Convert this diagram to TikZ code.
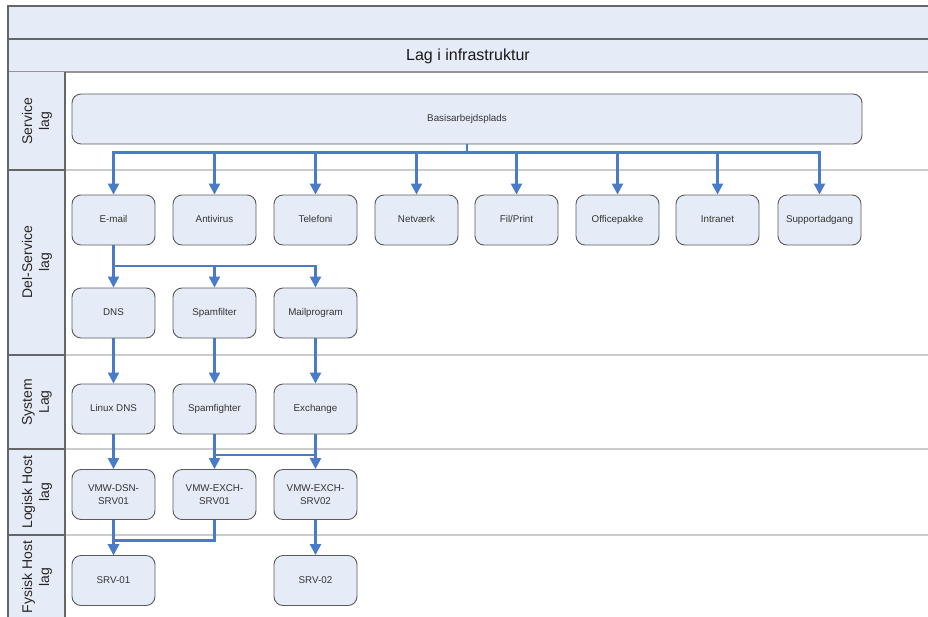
\documentclass[tikz,border=0pt]{standalone}
\usepackage{fontspec}
\setmainfont{Liberation Sans}
\usetikzlibrary{arrows.meta}
\definecolor{boxfill}{HTML}{E6ECF7}
\definecolor{boxline}{HTML}{5A5A5A}
\definecolor{framecol}{HTML}{666666}
\definecolor{sepcol}{HTML}{CCCCCC}
\definecolor{arrowblue}{HTML}{4A7BC8}
\definecolor{txtcol}{HTML}{333333}
\tikzset{
  svcbox/.style={draw=boxline, line width=0.9pt, fill=boxfill, rounded corners=9pt,
    minimum width=83pt, minimum height=50pt, inner sep=2pt, align=center,
    text=txtcol, font=\fontsize{9.8}{12.8}\selectfont},
  oneline/.style={svcbox, text height=7pt, text depth=2pt},
  conn/.style={draw=arrowblue, line width=2.4pt, -{Triangle[width=11pt,length=11pt]}},
  plainconn/.style={draw=arrowblue, line width=2.4pt},
  lanelabel/.style={rotate=90, align=center, text=black!85, font=\fontsize{14}{17}\selectfont},
  lanesep/.style={draw=sepcol, line width=1.2pt},
  framesep/.style={draw=framecol, line width=1.2pt}
}
\begin{document}
\begin{tikzpicture}[x=1pt,y=-1pt]
\useasboundingbox (0,0) rectangle (928,616);
\clip (0,0) rectangle (928,616);
% top bands
\fill[boxfill] (8,6) rectangle (940,72);
\draw[framesep] (8,39) -- (940,39);
\draw[draw=framecol!70, line width=1.2pt] (8,72) -- (940,72);
\node[font=\fontsize{16}{18}\selectfont, text=black!90] (title) at (468,56) {Lag i infrastruktur};
% label column
\fill[boxfill] (8,72) rectangle (65,630);
% lane separators
\foreach \yy in {170,355,449,535} {
  \draw[lanesep] (65,\yy) -- (940,\yy);
  \draw[framesep] (8,\yy) -- (65,\yy);
}
\draw[framesep] (65,72) -- (65,630);
% outer frame
\draw[framesep] (8,630) -- (8,6) -- (940,6);
% lane labels
\node[lanelabel] (l1) at (37,121) {Service\\lag};
\node[lanelabel] (l2) at (37,262) {Del-Service\\lag};
\node[lanelabel] (l3) at (37,402) {System\\Lag};
\node[lanelabel] (l4) at (37,492) {Logisk Host\\lag};
\node[lanelabel] (l5) at (37,577) {Fysisk Host\\lag};
% boxes
\node[oneline, minimum width=790pt] (basis) at (467,119) {Basisarbejdsplads};
\node[oneline] (email) at (113.5,220) {E-mail};
\node[oneline] (anti) at (214.5,220) {Antivirus};
\node[oneline] (tele) at (315.5,220) {Telefoni};
\node[oneline] (net) at (416.5,220) {Netværk};
\node[oneline] (fil) at (516.5,220) {Fil/Print};
\node[oneline] (office) at (617.5,220) {Officepakke};
\node[oneline] (intra) at (717.5,220) {Intranet};
\node[oneline] (support) at (819.5,220) {Supportadgang};
\node[oneline] (dns) at (113.5,313) {DNS};
\node[oneline] (spamfil) at (214.5,313) {Spamfilter};
\node[oneline] (mailp) at (315.5,313) {Mailprogram};
\node[oneline] (ldns) at (113.5,409) {Linux DNS};
\node[oneline] (spamfig) at (214.5,409) {Spamfighter};
\node[oneline] (exch) at (315.5,409) {Exchange};
\node[svcbox] (vmdsn) at (113.5,494.5) {VMW-DSN-\\SRV01};
\node[svcbox] (vmx1) at (214.5,494.5) {VMW-EXCH-\\SRV01};
\node[svcbox] (vmx2) at (315.5,494.5) {VMW-EXCH-\\SRV02};
\node[oneline] (srv1) at (113.5,580.5) {SRV-01};
\node[oneline] (srv2) at (315.5,580.5) {SRV-02};
% connectors from basis
\coordinate (bj) at (467,152.5);
\draw[plainconn] (basis.south) -- (bj);
\foreach \n in {email,anti,tele,net,fil,office,intra,support} {
  \draw[conn] (bj) -| (\n.north);
}
% email fan-out
\coordinate (ej) at (113.5,266);
\draw[plainconn] (email.south) -- (ej);
\foreach \n in {dns,spamfil,mailp} {
  \draw[conn] (ej) -| (\n.north);
}
% straight
\draw[conn] (dns.south) -- (ldns.north);
\draw[conn] (spamfil.south) -- (spamfig.north);
\draw[conn] (mailp.south) -- (exch.north);
\draw[conn] (ldns.south) -- (vmdsn.north);
\draw[conn] (spamfig.south) -- (vmx1.north);
\draw[conn] (exch.south) -- (vmx2.north);
\draw[plainconn, line width=2pt] (spamfig.south |- 0,455) -- (exch.south |- 0,455);
% bottom
\draw[conn] (vmdsn.south) -- (srv1.north);
\draw[conn] (vmx1.south) -- ++(0,20.5) -| (srv1.north);
\draw[conn] (vmx2.south) -- (srv2.north);
\end{tikzpicture}
\end{document}
